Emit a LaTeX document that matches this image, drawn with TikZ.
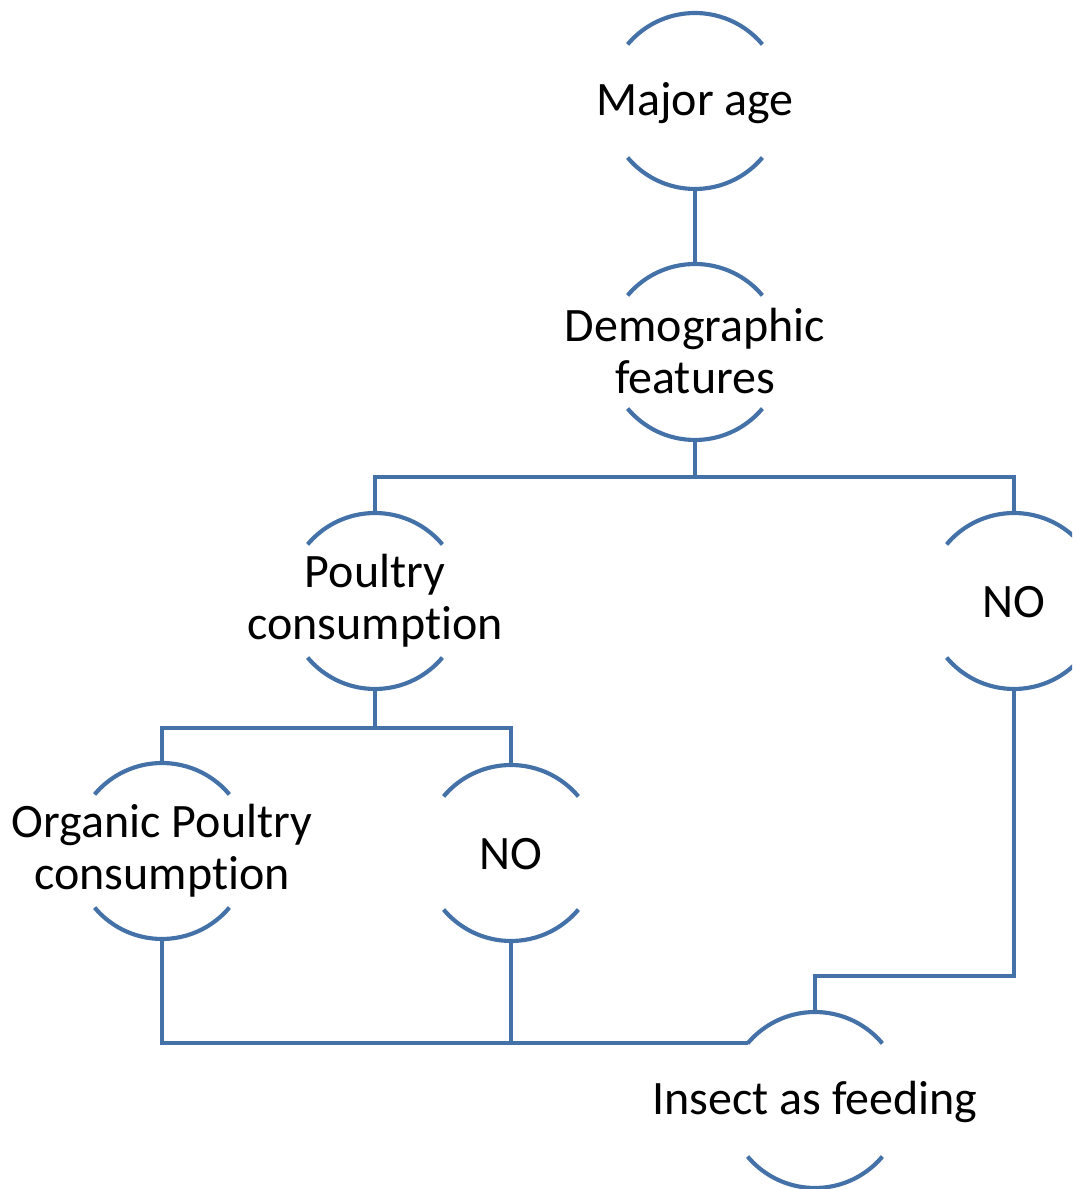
\documentclass[tikz,border=0pt]{standalone}
\usepackage{fontspec}
\setmainfont[Ligatures=NoCommon]{Carlito}
\definecolor{lineblue}{RGB}{68,114,168}
\tikzset{
  lbl/.style={align=center, inner sep=0pt, font=\fontsize{36}{39}\selectfont, text=black},
  conn/.style={draw=lineblue, line width=3.1pt, line join=miter},
  arcline/.style={draw=lineblue, line width=3.1pt}
}
\newcommand{\halfcircles}[1]{%
  \draw[arcline] ([shift={(40:66pt)}]#1.center) arc[start angle=40, end angle=140, radius=66pt];
  \draw[arcline] ([shift={(-40:66pt)}]#1.center) arc[start angle=-40, end angle=-140, radius=66pt];
}
\begin{document}
\begin{tikzpicture}[x=0.75pt, y=0.75pt]
\useasboundingbox (0,0) rectangle (1072,1189);
\clip (0,0) rectangle (1072,1189);
\fill[white] (0,0) rectangle (1072,1189);
\coordinate (mac) at (695,1088);
\coordinate (dfc) at (695,837);
\coordinate (pcc) at (375,588);
\coordinate (noac) at (1014,588);
\coordinate (opc) at (162,338);
\coordinate (nobc) at (511,336);
\coordinate (insc) at (815,89);
\node[lbl] (ma) at (695,1086) {Major age};
\node[lbl] (df) at (695,838) {Demographic\\features};
\node[lbl] (pc) at (375,588) {Poultry\\consumption};
\node[lbl] (noa) at (1014,587) {NO};
\node[lbl] (op) at (162,338) {Organic Poultry\\consumption};
\node[lbl] (nob) at (511,335) {NO};
\node[lbl] (ins) at (815,87) {Insect as feeding};
\foreach \n in {mac,dfc,pcc,noac,opc,nobc,insc} {\halfcircles{\n}}
\coordinate (j1) at (695,712);
\coordinate (j2) at (375,461);
\coordinate (j3) at ([shift={(140:66pt)}]insc);
\coordinate (j4) at (815,213);
\draw[conn] ([yshift=-66pt]mac) -- ([yshift=66pt]dfc);
\draw[conn] ([yshift=-66pt]dfc) -- (j1);
\draw[conn] ([yshift=66pt]pcc) |- (j1) -| ([yshift=66pt]noac);
\draw[conn] ([yshift=-66pt]pcc) -- (j2);
\draw[conn] ([yshift=66pt]opc) |- (j2) -| ([yshift=66pt]nobc);
\draw[conn] ([yshift=-66pt]opc) |- (j3);
\draw[conn] ([yshift=-66pt]nobc) |- (j3);
\draw[conn] ([yshift=-66pt]noac) |- (j4) -- ([yshift=66pt]insc);
\end{tikzpicture}
\end{document}
